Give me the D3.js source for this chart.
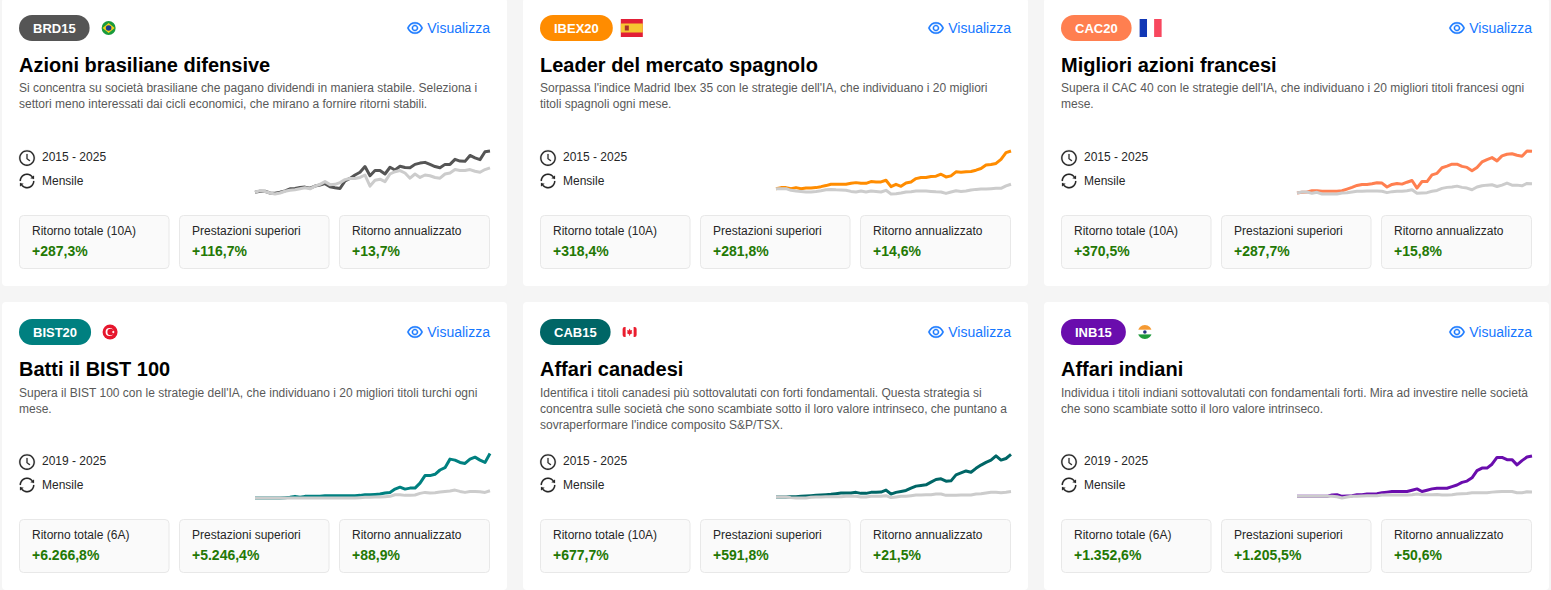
<!DOCTYPE html>
<html>
<head>
<meta charset="utf-8">
<script src="https://d3js.org/d3.v7.min.js"></script>
<style>
html, body { margin: 0; padding: 0; background: #f5f5f5; overflow: hidden; }
svg { display: block; font-family: "Liberation Sans", Arial, sans-serif; }
</style>
</head>
<body>
<div id="chart"></div>
<script>
const tickers = ["BRD15", "IBEX20", "CAC20", "BIST20", "CAB15", "INB15"];
const colors = ["#555555", "#ff8c00", "#ff7f50", "#008080", "#006666", "#6a0dad"];
const flags = ["br", "es", "fr", "tr", "ca", "in"];
const titles = ["Azioni brasiliane difensive", "Leader del mercato spagnolo", "Migliori azioni francesi",
  "Batti il BIST 100", "Affari canadesi", "Affari indiani"];
const descriptions = [
  ["Si concentra su società brasiliane che pagano dividendi in maniera stabile. Seleziona i", "settori meno interessati dai cicli economici, che mirano a fornire ritorni stabili."],
  ["Sorpassa l'indice Madrid Ibex 35 con le strategie dell'IA, che individuano i 20 migliori", "titoli spagnoli ogni mese."],
  ["Supera il CAC 40 con le strategie dell'IA, che individuano i 20 migliori titoli francesi ogni", "mese."],
  ["Supera il BIST 100 con le strategie dell'IA, che individuano i 20 migliori titoli turchi ogni", "mese."],
  ["Identifica i titoli canadesi più sottovalutati con forti fondamentali. Questa strategia si", "concentra sulle società che sono scambiate sotto il loro valore intrinseco, che puntano a", "sovraperformare l'indice composito S&P/TSX."],
  ["Individua i titoli indiani sottovalutati con fondamentali forti. Mira ad investire nelle società", "che sono scambiate sotto il loro valore intrinseco."]
];
const periods = ["2015 - 2025", "2015 - 2025", "2015 - 2025", "2019 - 2025", "2015 - 2025", "2019 - 2025"];
const frequency = "Mensile";
const totalLabels = ["Ritorno totale (10A)", "Ritorno totale (10A)", "Ritorno totale (10A)", "Ritorno totale (6A)", "Ritorno totale (10A)", "Ritorno totale (6A)"];
const totalReturns = ["+287,3%", "+318,4%", "+370,5%", "+6.266,8%", "+677,7%", "+1.352,6%"];
const excessReturns = ["+116,7%", "+281,8%", "+287,7%", "+5.246,4%", "+591,8%", "+1.205,5%"];
const annualReturns = ["+13,7%", "+14,6%", "+15,8%", "+88,9%", "+21,5%", "+50,6%"];
const statLabels = ["Prestazioni superiori", "Ritorno annualizzato"];
const linkLabel = "Visualizza";

// cumulative return in %, strategy and benchmark
const brdStrategy = [0,7,7,-5,-7,0,10,24,26,33,36,29,43,50,60,38,31,26,79,96,120,139,179,115,151,151,127,174,155,181,172,170,194,203,208,194,179,170,194,194,229,217,215,256,239,227,282,287];
const brdBenchmark = [0,12,5,-5,-12,-5,7,14,17,24,31,24,43,55,74,53,55,67,88,96,96,103,120,43,84,91,74,127,143,151,134,98,127,103,120,115,103,98,127,134,158,151,151,158,146,139,158,170];
const ibexStrategy = [0,9,9,0,9,0,6,6,9,17,26,37,37,37,37,45,51,45,45,60,57,57,71,17,37,20,48,57,85,94,94,102,105,122,99,108,142,139,142,145,156,170,199,204,213,247,304,318];
const ibexBenchmark = [0,0,0,-14,-20,-23,-28,-28,-23,-17,-9,-6,-9,-11,-14,-23,-28,-20,-28,-20,-23,-28,-14,-45,-43,-37,-28,-26,-20,-20,-20,-23,-26,-28,-40,-28,-17,-23,-20,-11,-6,-3,-3,0,3,3,23,37];
const cacStrategy = [0,6,9,20,20,15,15,15,15,20,35,50,67,76,76,82,91,88,53,76,85,79,96,111,44,102,102,161,175,225,239,257,257,237,228,199,228,277,298,315,286,330,345,350,336,327,374,371];
const cacBenchmark = [0,9,9,-3,6,-9,-9,-9,-9,0,3,9,15,15,18,18,18,15,3,12,15,15,20,29,-3,0,3,15,23,41,50,53,61,50,44,29,53,64,70,73,58,70,88,70,70,64,85,83];
const bistStrategy = [0,0,0,0,0,0,46,93,232,93,232,232,232,232,325,325,325,325,325,325,325,371,464,464,510,557,696,789,1253,1531,1253,1392,1392,2088,3155,3155,3341,3944,4269,5475,5336,5011,4872,5475,5754,5336,5011,6267];
const bistBenchmark = [0,0,0,0,0,0,0,0,0,0,0,0,0,0,0,0,0,0,0,0,0,46,93,93,139,139,186,232,464,464,371,371,418,650,789,696,742,835,928,974,1114,928,789,928,928,882,789,1020];
const cabStrategy = [0,0,0,5,5,11,16,21,26,32,37,42,53,63,63,63,74,58,58,74,74,79,110,47,74,89,105,142,173,184,194,236,278,289,252,257,352,383,415,394,457,509,551,588,656,588,614,678];
const cabBenchmark = [0,0,0,-10,-16,-16,-16,-5,0,0,5,5,5,5,11,11,11,0,0,11,11,11,21,-10,0,11,11,21,32,32,37,37,47,47,26,26,26,32,32,32,47,53,63,74,74,68,74,86];
const inbStrategy = [0,0,0,0,0,0,0,44,55,0,11,22,55,55,76,76,87,120,142,164,164,164,164,207,251,164,207,251,273,273,273,327,382,469,512,621,861,948,948,1079,1308,1308,1232,1232,1057,1199,1319,1353];
const inbBenchmark = [0,0,0,0,0,0,0,0,-11,-55,-22,0,0,11,22,22,22,44,44,44,44,44,44,55,76,55,55,55,65,44,44,55,76,87,98,120,120,120,120,142,153,164,164,164,120,120,153,147];
// upper end of each sparkline's y domain
const yCeilings = [287, 318, 374, 6267, 693, 1438];

const strategies = [brdStrategy, ibexStrategy, cacStrategy, bistStrategy, cabStrategy, inbStrategy];
const benchmarks = [brdBenchmark, ibexBenchmark, cacBenchmark, bistBenchmark, cabBenchmark, inbBenchmark];

const eyePath = "M942.2 486.2C847.4 286.5 704.1 186 512 186c-192.2 0-335.4 100.5-430.2 300.3a60.3 60.3 0 0 0 0 51.5C176.6 737.5 319.9 838 512 838c192.2 0 335.4-100.5 430.2-300.3 7.7-16.2 7.7-35 0-51.5zM512 766c-161.3 0-279.4-81.8-362.7-254C232.6 339.8 350.7 258 512 258c161.3 0 279.4 81.8 362.7 254C791.5 684.2 673.4 766 512 766zm-4-430c-97.2 0-176 78.8-176 176s78.8 176 176 176 176-78.8 176-176-78.8-176-176-176zm0 288c-61.9 0-112-50.1-112-112s50.1-112 112-112 112 50.1 112 112-50.1 112-112 112z";
const clockPath = "M512 64C264.6 64 64 264.6 64 512s200.6 448 448 448 448-200.6 448-448S759.4 64 512 64zm0 820c-205.4 0-372-166.6-372-372s166.6-372 372-372 372 166.6 372 372-166.6 372-372 372zM686.7 638.6L544.1 535.5V288c0-4.4-3.6-8-8-8H488c-4.4 0-8 3.6-8 8v275.4c0 2.6 1.2 5 3.3 6.5l165.4 120.6c3.6 2.6 8.6 1.8 11.2-1.7l28.6-39c2.6-3.7 1.8-8.7-1.8-11.2z";
const syncPath = "M168 504.2c1-43.7 10-86.1 26.9-126 17.3-41 42.1-77.7 73.7-109.4S337 212.3 378 195c42.4-17.9 87.4-27 133.9-27s91.5 9.1 133.8 27A341.5 341.5 0 0 1 755 268.8c9.9 9.9 19.2 20.4 27.8 31.4l-60.2 47a8 8 0 0 0 3 14.1l175.7 43c5 1.2 9.9-2.6 9.9-7.7l.8-180.9c0-6.7-7.7-10.5-12.9-6.3l-56.4 44.1C765.8 155.1 646.2 92 511.8 92 282.7 92 96.3 275.6 92 503.8a8 8 0 0 0 8 8.2h60c4.4 0 7.9-3.5 8-7.8zm756 7.8h-60c-4.4 0-7.9 3.5-8 7.8-1 43.7-10 86.1-26.9 126-17.3 41-42.1 77.8-73.7 109.4A342.45 342.45 0 0 1 512.1 856a342.24 342.24 0 0 1-243.2-100.8c-9.9-9.9-19.2-20.4-27.8-31.4l60.2-47a8 8 0 0 0-3-14.1l-175.7-43c-5-1.2-9.9 2.6-9.9 7.7l-.7 181c0 6.7 7.7 10.5 12.9 6.3l56.4-44.1C258.2 868.9 377.8 932 512.2 932c229.2 0 415.5-183.7 419.8-411.8a8 8 0 0 0-8-8.2z";

const width = 1551, height = 590;
const cardW = 505, cardH = 288;
const cardX = d3.scaleOrdinal().domain([0, 1, 2]).range([2, 523, 1044]);
const cardY = d3.scaleOrdinal().domain([0, 1]).range([-2, 302]);

const svg = d3.select("#chart").append("svg")
  .attr("width", width)
  .attr("height", height);

function icon(g, path, cx, cy, size, color, weight) {
  let k = size / 1024;
  g.append("path")
    .attr("d", path)
    .attr("fill", color)
    .attr("stroke", color)
    .attr("stroke-width", weight)
    .attr("transform", "translate(" + (cx - size / 2) + "," + (cy - size / 2) + ")scale(" + k + ")");
}

// flag is centered on 0,0
function drawFlag(g, code, i) {
  if (code == "es") {
    g.append("rect").attr("x", -11).attr("y", -9).attr("width", 22).attr("height", 18).attr("fill", "#e21f36");
    g.append("rect").attr("x", -11).attr("y", -4.5).attr("width", 22).attr("height", 9).attr("fill", "#f6c531");
    g.append("rect").attr("x", -7).attr("y", -2.5).attr("width", 4).attr("height", 5).attr("fill", "#a8322a");
  } else if (code == "fr") {
    g.append("rect").attr("x", -11).attr("y", -9).attr("width", 7.5).attr("height", 18).attr("fill", "#1137b5");
    g.append("rect").attr("x", -3.5).attr("y", -9).attr("width", 7.5).attr("height", 18).attr("fill", "#ffffff");
    g.append("rect").attr("x", 3.5).attr("y", -9).attr("width", 7.5).attr("height", 18).attr("fill", "#f8475e");
  } else if (code == "br") {
    g.append("circle").attr("r", 7).attr("fill", "#1a9b3d");
    g.append("path").attr("d", "M-6,0L0,-5L6,0L0,5Z").attr("fill", "#f7d117");
    g.append("circle").attr("r", 2.8).attr("fill", "#1b3f8f");
  } else if (code == "tr") {
    g.append("circle").attr("r", 7.5).attr("fill", "#e6162d");
    g.append("circle").attr("cx", -0.5).attr("r", 4).attr("fill", "#ffffff");
    g.append("circle").attr("cx", 0.5).attr("r", 3.2).attr("fill", "#e6162d");
    g.append("circle").attr("cx", 3.2).attr("r", 1.1).attr("fill", "#ffffff");
  } else if (code == "ca") {
    g.append("rect").attr("x", -7).attr("y", -5).attr("width", 14).attr("height", 10).attr("rx", 2).attr("fill", "#ffffff");
    g.append("path").attr("d", "M-7,-3Q-7,-5 -5,-5H-4V5H-5Q-7,5 -7,3ZM4,-5H5Q7,-5 7,-3V3Q7,5 5,5H4Z").attr("fill", "#ea1d2e");
    g.append("path").attr("d", "M0,-3.5L1,-1.5L2.5,-2L2,0.5L3,1L0.4,2.5V3.8H-0.4V2.5L-3,1L-2,0.5L-2.5,-2L-1,-1.5Z").attr("fill", "#ea1d2e");
  } else if (code == "in") {
    let clipId = "flag-clip-" + i;
    g.append("clipPath").attr("id", clipId).append("circle").attr("r", 7);
    let f = g.append("g").attr("clip-path", "url(#" + clipId + ")");
    f.append("rect").attr("x", -7).attr("y", -7).attr("width", 14).attr("height", 14).attr("fill", "#ffffff");
    f.append("rect").attr("x", -7).attr("y", -7).attr("width", 14).attr("height", 4.7).attr("fill", "#f59a33");
    f.append("rect").attr("x", -7).attr("y", 2.4).attr("width", 14).attr("height", 4.7).attr("fill", "#1f9a3c");
    f.append("circle").attr("r", 1.8).attr("fill", "#24357f");
  }
}

tickers.forEach(function (ticker, i) {
  let row = Math.floor(i / 3);
  let g = svg.append("g")
    .attr("transform", "translate(" + cardX(i % 3) + "," + cardY(row) + ")");

  g.append("rect")
    .attr("width", cardW)
    .attr("height", cardH)
    .attr("rx", 4)
    .attr("fill", "#ffffff");

  // Header: pill, flag and link
  let pillText = g.append("text")
    .attr("y", 34.5)
    .attr("text-anchor", "middle")
    .attr("font-size", 13)
    .attr("font-weight", "bold")
    .attr("fill", "#ffffff")
    .text(ticker);
  let pillW = pillText.node().getComputedTextLength() + 28;
  g.insert("rect", "text")
    .attr("x", 17)
    .attr("y", 17)
    .attr("width", pillW)
    .attr("height", 26)
    .attr("rx", 13)
    .attr("fill", colors[i]);
  pillText.attr("x", 17 + pillW / 2);

  let flag = g.append("g")
    .attr("transform", "translate(" + (17 + pillW + 19) + ",30)");
  drawFlag(flag, flags[i], i);

  g.append("text")
    .attr("x", 488)
    .attr("y", 35)
    .attr("text-anchor", "end")
    .attr("font-size", 14)
    .attr("fill", "#1677ff")
    .text(linkLabel);
  icon(g, eyePath, 413, 30, 18, "#1677ff", 24);

  // Title and description
  g.append("text")
    .attr("x", 17)
    .attr("y", 74)
    .attr("font-size", 20)
    .attr("font-weight", "bold")
    .attr("fill", "#000000")
    .text(titles[i]);

  g.selectAll("text.desc")
    .data(descriptions[i])
    .enter()
    .append("text")
    .attr("class", "desc")
    .attr("x", 17)
    .attr("y", function (d, j) { return 94 + row + j * 16; })
    .attr("font-size", 12)
    .attr("fill", "#595959")
    .text(function (d) { return d; });

  // Period and frequency
  icon(g, clockPath, 25, 160, 18, "#262626", 10);
  g.append("text").attr("x", 40).attr("y", 163)
    .attr("font-size", 12).attr("fill", "#262626").text(periods[i]);
  icon(g, syncPath, 25, 183, 18, "#262626", 10);
  g.append("text").attr("x", 40).attr("y", 187)
    .attr("font-size", 12).attr("fill", "#262626").text(frequency);

  // Sparkline
  let strategy = strategies[i], benchmark = benchmarks[i];
  let x = d3.scaleLinear()
    .domain([0, strategy.length - 1])
    .range([253, 488]);
  let y = d3.scaleLinear()
    .domain([d3.min(strategy.concat(benchmark)), yCeilings[i]])
    .range([196, row ? 151.5 : 153]);
  let line = d3.line()
    .x(function (d, j) { return x(j); })
    .y(function (d) { return y(d); });

  g.append("path")
    .attr("d", line(strategy))
    .attr("fill", "none")
    .attr("stroke", colors[i])
    .attr("stroke-width", 3)
    .attr("stroke-linejoin", "round");
  g.append("path")
    .attr("d", line(benchmark))
    .attr("fill", "none")
    .attr("stroke", "#cccccc")
    .attr("stroke-width", 3)
    .attr("stroke-linejoin", "round");

  // Stat boxes
  let statNames = [totalLabels[i], statLabels[0], statLabels[1]];
  let statValues = [totalReturns[i], excessReturns[i], annualReturns[i]];
  let box = d3.scaleBand().domain([0, 1, 2]).range([17, 498]);
  statNames.forEach(function (name, j) {
    let bx = Math.floor(box(j));
    let b = g.append("g").attr("transform", "translate(" + bx + ",217)");
    b.append("rect")
      .attr("x", 0.5).attr("y", 0.5)
      .attr("width", j == 2 ? 150 : 149.5).attr("height", 53)
      .attr("rx", 4)
      .attr("fill", "#fafafa")
      .attr("stroke", "#e8e8e8");
    b.append("text").attr("x", 13).attr("y", 20)
      .attr("font-size", 12).attr("fill", "#262626").text(name);
    b.append("text").attr("x", 13).attr("y", 41)
      .attr("font-size", 14).attr("font-weight", "bold").attr("fill", "#237804").text(statValues[j]);
  });
});
</script>
</body>
</html>
